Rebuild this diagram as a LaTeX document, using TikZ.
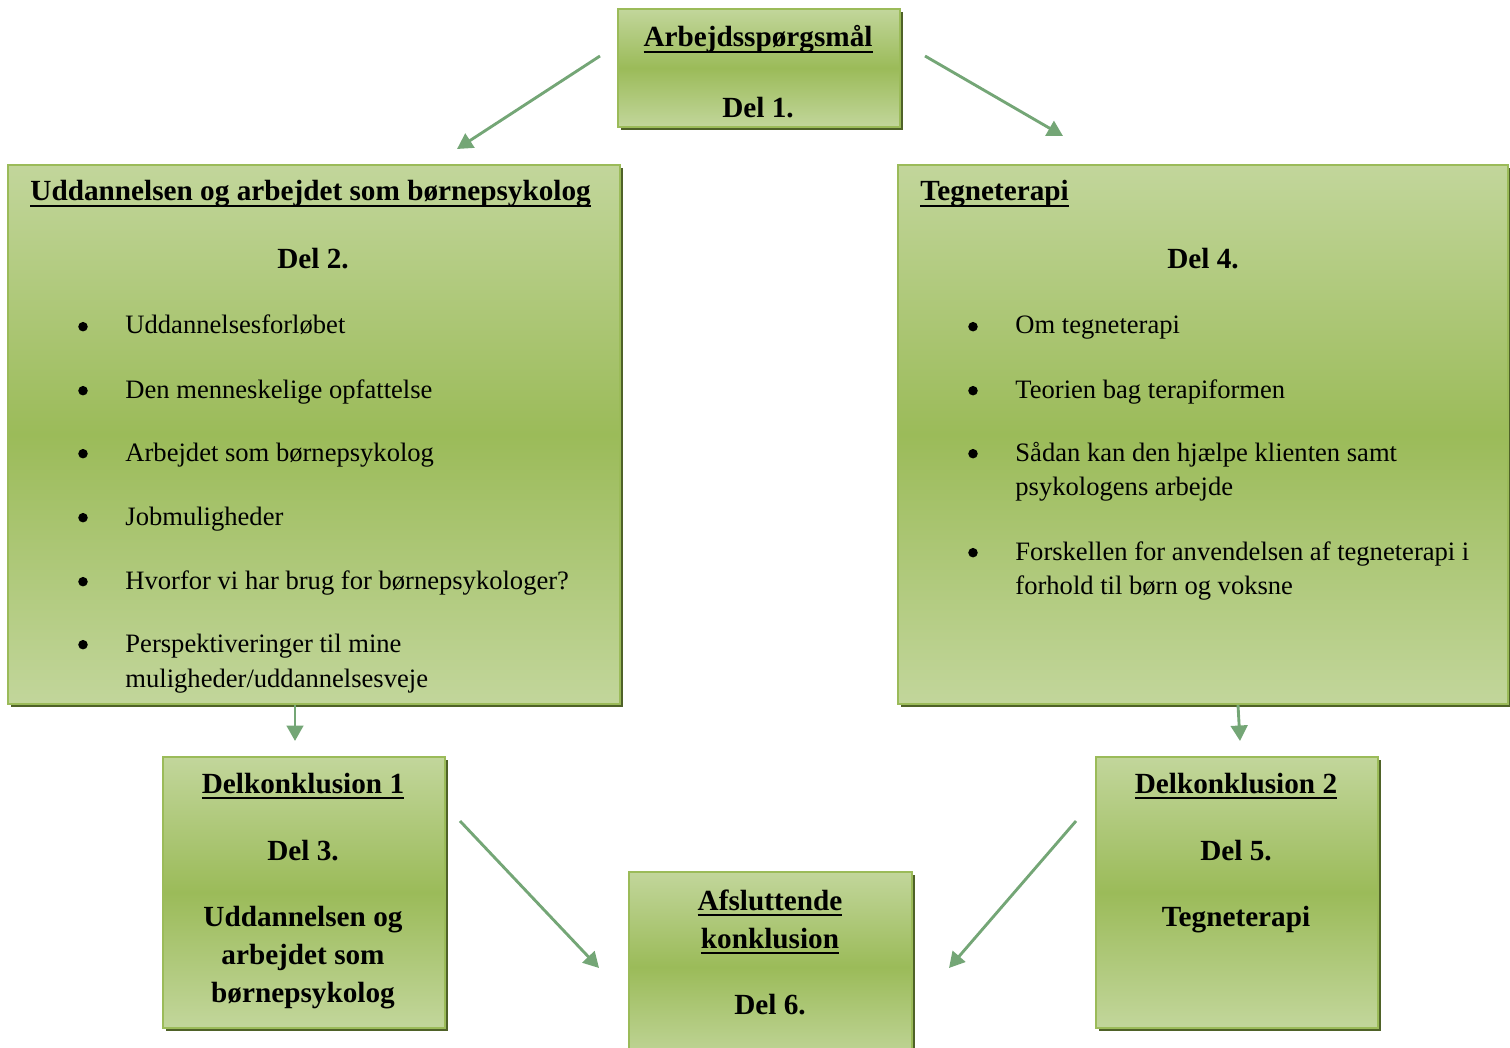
\documentclass[tikz,border=0pt]{standalone}
\usepackage{fontspec}
\setmainfont{Liberation Serif}
\usetikzlibrary{arrows.meta,fit,shadows}
\definecolor{boxlight}{RGB}{194,214,155}
\definecolor{boxmid}{RGB}{155,187,89}
\definecolor{boxshadow}{RGB}{79,98,40}
\definecolor{flowgreen}{RGB}{116,166,118}
\newcommand{\titleul}[1]{\setbox0=\hbox{#1}\rlap{\rule[-2.7pt]{\wd0}{1pt}}\box0}
\tikzset{
  box/.style={draw=boxmid, line width=1.3pt, top color=boxlight, bottom color=boxlight,
    middle color=boxmid, inner sep=0pt,
    drop shadow={shadow xshift=1.4pt, shadow yshift=-1.4pt, opacity=1, fill=boxshadow}},
  flow/.style={draw=flowgreen, line width=1.3pt, -{Triangle[length=7pt,width=7.5pt]}},
  title/.style={font=\fontsize{13.2}{17.5}\selectfont\bfseries, inner sep=0pt, anchor=base},
  item/.style={font=\fontsize{12}{15.8}\selectfont, inner sep=0pt, anchor=base west},
  dot/.style={circle, fill=black, inner sep=0pt, minimum size=4.3pt, yshift=3.3pt}
}
\begin{document}
\begin{tikzpicture}[x=0.4515pt, y=-0.4515pt]
    \useasboundingbox (0,0) rectangle (1510,1048);

    % boxes
    \node[box, fit={(618,9) (900,127)}] (arb) {};
    \node[box, fit={(8,165) (620,704)}] (udd) {};
    \node[box, fit={(898,165) (1508,704)}] (teg) {};
    \node[box, fit={(163,757) (445,1028)}] (dk1) {};
    \node[box, fit={(1096,757) (1378,1028)}] (dk2) {};
    \node[box, fit={(629,872) (912,1062)}] (afs) {};

    % Del 1
    \node[title] (arbT) at (758,47) {\titleul{Arbejdsspørgsmål}};
    \node[title] (arbD) at (758,118) {Del 1.};

    % Del 2
    \node[title, anchor=base west] (uddT) at (30,201) {\titleul{Uddannelsen og arbejdet som børnepsykolog}};
    \node[title] (uddD) at (313,269) {Del 2.};
    \foreach \y/\txt [count=\i] in {334/Uddannelsesforløbet, 398/Den menneskelige opfattelse,
        461/Arbejdet som børnepsykolog, 525/Jobmuligheder,
        589/Hvorfor vi har brug for børnepsykologer?, 652/Perspektiveringer til mine} {
      \node[dot] (uddB\i) at (83,\y) {};
      \node[item] (uddI\i) at (125,\y) {\txt};
    }
    \node[item] (uddI7) at (125,687) {muligheder/uddannelsesveje};

    % Del 4
    \node[title, anchor=base west] (tegT) at (920,201) {\titleul{Tegneterapi}};
    \node[title] (tegD) at (1203,269) {Del 4.};
    \foreach \y/\txt [count=\i] in {334/Om tegneterapi, 398/Teorien bag terapiformen,
        461/Sådan kan den hjælpe klienten samt, 560/Forskellen for anvendelsen af tegneterapi i} {
      \node[dot] (tegB\i) at (973,\y) {};
      \node[item] (tegI\i) at (1015,\y) {\txt};
    }
    \node[item] (tegI5) at (1015,495) {psykologens arbejde};
    \node[item] (tegI6) at (1015,594) {forhold til børn og voksne};

    % Del 3
    \node[title] (dk1T) at (303,793) {\titleul{Delkonklusion 1}};
    \node[title] (dk1D) at (303,860) {Del 3.};
    \node[title] (dk1L1) at (303,926) {Uddannelsen og};
    \node[title] (dk1L2) at (303,964) {arbejdet som};
    \node[title] (dk1L3) at (303,1002) {børnepsykolog};

    % Del 5
    \node[title] (dk2T) at (1236,793) {\titleul{Delkonklusion 2}};
    \node[title] (dk2D) at (1236,860) {Del 5.};
    \node[title] (dk2L1) at (1236,926) {Tegneterapi};

    % Del 6
    \node[title] (afsT1) at (770,910) {\titleul{Afsluttende}};
    \node[title] (afsT2) at (770,948) {\titleul{konklusion}};
    \node[title] (afsD) at (770,1014) {Del 6.};

    % arrows
    \coordinate (a1s) at (600,56);   \coordinate (a1e) at (457,149);
    \coordinate (a2s) at (925,56);   \coordinate (a2e) at (1063,136);
    \coordinate (a3s) at (295,705);  \coordinate (a3e) at (295,741);
    \coordinate (a4s) at (1238,705); \coordinate (a4e) at (1240,741);
    \coordinate (a5s) at (460,821);  \coordinate (a5e) at (599,968);
    \coordinate (a6s) at (1076,821); \coordinate (a6e) at (949,968);
    \draw[flow] (a1s) -- (a1e);
    \draw[flow] (a2s) -- (a2e);
    \draw[flow] (a3s) -- (a3e);
    \draw[flow] (a4s) -- (a4e);
    \draw[flow] (a5s) -- (a5e);
    \draw[flow] (a6s) -- (a6e);
\end{tikzpicture}
\end{document}
